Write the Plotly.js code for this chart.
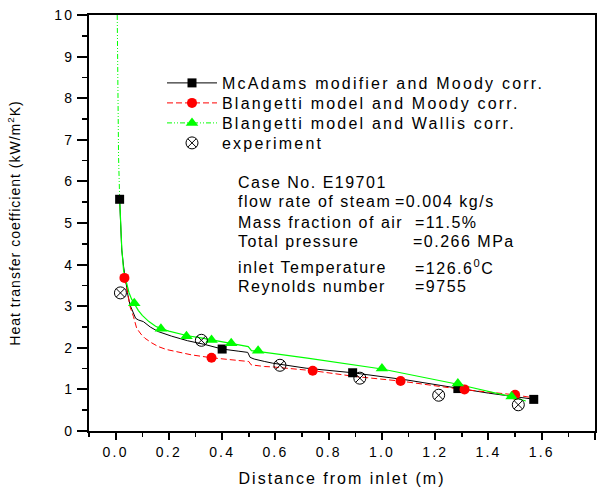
<!DOCTYPE html>
<html>
<head>
<meta charset="utf-8">
<script src="https://cdn.plot.ly/plotly-3.0.1.min.js"></script>
<style>
  html, body { margin: 0; padding: 0; background: #fff; }
  #chart { width: 607px; height: 490px; }
  .xtick text, .ytick text { letter-spacing: 2.2px; }
  .infolayer text { letter-spacing: 2.2px; }
  .legendtext, text.legendtext { letter-spacing: 2.2px; }
  .infolayer .annotation-text { letter-spacing: 1.5px; }
  .infolayer .xtitle { letter-spacing: 2px; }
  .infolayer .ytitle { letter-spacing: 1px; }
</style>
</head>
<body>
<div id="chart"></div>
<script>
// ---- data ----
// McAdams modifier and Moody corr. (black solid curve + square markers)
const mcadamsCurveX = [0.015,0.023,0.03,0.038,0.046,0.054,0.067,0.075,0.085,0.104,0.13,0.16,0.21,0.27,0.335,0.4,0.46,0.496,0.505,0.52,0.56,0.59,0.715,0.89,1.09,1.285,1.4,1.575];
const mcadamsCurveY = [5.57,4.35,3.95,3.55,3.27,3.03,2.83,2.71,2.67,2.63,2.5,2.39,2.28,2.17,2.08,1.97,1.92,1.89,1.77,1.73,1.67,1.63,1.51,1.40,1.23,1.03,0.91,0.76];
const mcadamsMarkX = [0.015,0.40,0.89,1.285,1.57];
const mcadamsMarkY = [5.57,1.97,1.40,1.02,0.76];

// Blangetti model and Moody corr. (red dashed curve + circles)
const blMoodyCurveX = [0.035,0.045,0.054,0.067,0.079,0.095,0.11,0.135,0.16,0.19,0.222,0.285,0.36,0.434,0.484,0.5,0.509,0.53,0.559,0.59,0.74,0.9,1.07,1.3,1.5,1.575];
const blMoodyCurveY = [3.67,3.3,2.99,2.75,2.47,2.33,2.23,2.12,2.03,1.96,1.91,1.83,1.76,1.72,1.69,1.67,1.59,1.57,1.55,1.54,1.45,1.31,1.2,1.0,0.87,0.79];
const blMoodyMarkX = [0.033,0.36,0.74,1.07,1.31,1.50];
const blMoodyMarkY = [3.68,1.76,1.45,1.20,1.00,0.87];

// Blangetti model and Wallis corr. (green curve + triangles)
const blWallisTopX = [0.006,0.008,0.011,0.015];
const blWallisTopY = [10,8.0,6.6,5.6];
const blWallisCurveX = [0.015,0.023,0.03,0.04,0.05,0.06,0.07,0.085,0.1,0.125,0.15,0.17,0.2,0.235,0.27,0.32,0.36,0.4,0.44,0.48,0.498,0.51,0.54,0.72,1.0,1.28,1.49,1.54];
const blWallisCurveY = [5.6,4.4,3.85,3.55,3.33,3.17,3.05,2.9,2.78,2.63,2.52,2.46,2.4,2.34,2.29,2.24,2.19,2.15,2.1,2.05,2.03,1.93,1.91,1.75,1.49,1.13,0.82,0.72];
const blWallisMarkX = [0.07,0.17,0.266,0.36,0.434,0.535,1.0,1.285,1.487];
const blWallisMarkY = [3.07,2.46,2.28,2.19,2.11,1.93,1.50,1.14,0.83];

// experiment
const expX = [0.018,0.322,0.617,0.917,1.213,1.512];
const expY = [3.32,2.18,1.58,1.27,0.86,0.63];

// legend names
const seriesNames = ["McAdams modifier and Moody corr.","Blangetti model and Moody corr.","Blangetti model and Wallis corr.","experiment"];

// axes ticks
const xTickVals = [0,0.2,0.4,0.6,0.8,1.0,1.2,1.4,1.6,1.8];
const xTickText = ["0.0","0.2","0.4","0.6","0.8","1.0","1.2","1.4","1.6","1.8"];
const yTickVals = [0,1,2,3,4,5,6,7,8,9,10];
const yTickText = ["0","1","2","3","4","5","6","7","8","9","10"];

// info text
const infoLabels = ["Case No. E19701","flow rate of steam","Mass fraction of air","Total pressure","inlet Temperature","Reynolds number"];
const infoValues = ["","=0.004 kg/s","=11.5%","=0.266 MPa","=126.6<sup>0</sup>C","=9755"];

// ---- styling ----
const FONT = 'Arial, "Liberation Sans", sans-serif';
const BLACK = '#000000', RED = '#ff0000', GREEN = '#00ff00';
const WALLIS_DASH = '5px,2px,1px,2px,1px,2px';

const traces = [
  // curves
  {x: mcadamsCurveX, y: mcadamsCurveY, mode:'lines', line:{color:BLACK,width:1}, showlegend:false, hoverinfo:'skip'},
  {x: blMoodyCurveX, y: blMoodyCurveY, mode:'lines', line:{color:RED,width:1,dash:'6px,3px'}, showlegend:false, hoverinfo:'skip'},
  {x: blWallisTopX, y: blWallisTopY, mode:'lines', line:{color:GREEN,width:1,dash:WALLIS_DASH}, showlegend:false, hoverinfo:'skip'},
  {x: blWallisCurveX, y: blWallisCurveY, mode:'lines', line:{color:GREEN,width:1.2}, showlegend:false, hoverinfo:'skip'},
  // markers
  {x: mcadamsMarkX, y: mcadamsMarkY, mode:'markers', marker:{symbol:'square',size:9,color:BLACK}, showlegend:false},
  {x: blMoodyMarkX, y: blMoodyMarkY, mode:'markers', marker:{symbol:'circle',size:10,color:RED}, showlegend:false},
  {x: blWallisMarkX, y: blWallisMarkY, mode:'markers', marker:{symbol:'triangle-up',size:11,color:GREEN}, showlegend:false},
  // legend entries
  {x:[null], y:[null], name:seriesNames[0], legend:'legend', mode:'lines+markers', line:{color:BLACK,width:1}, marker:{symbol:'square',size:9,color:BLACK}},
  {x:[null], y:[null], name:seriesNames[1], legend:'legend2', mode:'lines+markers', line:{color:RED,width:1,dash:'6px,3px'}, marker:{symbol:'circle',size:10,color:RED}},
  {x:[null], y:[null], name:seriesNames[2], legend:'legend3', mode:'lines+markers', line:{color:GREEN,width:1,dash:WALLIS_DASH}, marker:{symbol:'triangle-up',size:11,color:GREEN}},
  {x: expX, y: expY, name:seriesNames[3], legend:'legend4', mode:'markers', marker:{symbol:'circle-x-open',size:12,color:BLACK,line:{width:1,color:BLACK}}}
];

// pixel helpers for text placement (plot area: x 89..595, y 15..431)
const L = 89, R = 595, T = 15, B = 431;
const px2paperX = p => (p - L) / (R - L);
const px2paperY = p => (B - p) / (B - T);

const labelY = [182, 202, 222, 242, 267, 286];
const valueX = [0, 393, 413, 411, 413, 413];
const annotations = [];
infoLabels.forEach((t, i) => {
  annotations.push({xref:'paper', yref:'paper', x:px2paperX(236), y:px2paperY(labelY[i]), xanchor:'left', yanchor:'middle',
    text:t, showarrow:false, align:'left', font:{family:FONT,size:16,color:BLACK}});
  if (infoValues[i]) {
    annotations.push({xref:'paper', yref:'paper', x:px2paperX(valueX[i]), y:px2paperY(labelY[i]), xanchor:'left', yanchor:'middle',
      text:infoValues[i], showarrow:false, align:'left', font:{family:FONT,size:16,color:BLACK}});
  }
});

const legendCenters = [82, 102, 122, 142];
function legendAt(cy) {
  return {x: px2paperX(162), y: px2paperY(cy - 16), xanchor:'left', yanchor:'top', bgcolor:'rgba(0,0,0,0)', borderwidth:0,
          orientation:'h', entrywidth:335, entrywidthmode:'pixels',
          font:{family:FONT,size:16,color:BLACK}, itemwidth:50};
}

const layout = {
  width: 607, height: 490,
  margin: {l: L, r: 607 - R, t: T, b: 490 - B, autoexpand:false},
  paper_bgcolor: '#ffffff', plot_bgcolor: '#ffffff',
  font: {family: FONT, size: 14, color: BLACK},
  showlegend: true,
  legend: legendAt(legendCenters[0]),
  legend2: legendAt(legendCenters[1]),
  legend3: legendAt(legendCenters[2]),
  legend4: legendAt(legendCenters[3]),
  xaxis: {
    range: [-0.1, 1.8], tickmode:'array', tickvals:xTickVals, ticktext:xTickText,
    ticks:'outside', ticklen:7, tickwidth:2, tickcolor:BLACK,
    minor:{tickmode:'linear', tick0:0, dtick:0.1, ticks:'outside', ticklen:4, tickwidth:1.5, tickcolor:BLACK},
    showline:true, linewidth:2, linecolor:BLACK, mirror:true, showgrid:false, zeroline:false,
    tickfont:{family:FONT,size:14,color:BLACK},
    title:{text:'Distance from inlet (m)', font:{family:FONT,size:16,color:BLACK}, standoff:14}
  },
  yaxis: {
    range: [0, 10], tickmode:'array', tickvals:yTickVals, ticktext:yTickText,
    ticks:'outside', ticklen:10, tickwidth:2, tickcolor:BLACK,
    minor:{tickmode:'linear', tick0:0, dtick:0.5, ticks:'outside', ticklen:5, tickwidth:1.5, tickcolor:BLACK},
    showline:true, linewidth:2, linecolor:BLACK, mirror:true, showgrid:false, zeroline:false,
    tickfont:{family:FONT,size:14,color:BLACK},
    title:{text:'Heat transfer coefficient (kW/m<sup>2</sup>K)', font:{family:FONT,size:14,color:BLACK}, standoff:30}
  },
  annotations: annotations
};

Plotly.newPlot('chart', traces, layout, {staticPlot:true, displayModeBar:false}).then(() => {
  document.querySelectorAll('#chart text.legendtext').forEach(t => { t.style.letterSpacing = '2.2px'; });
});
</script>
</body>
</html>
